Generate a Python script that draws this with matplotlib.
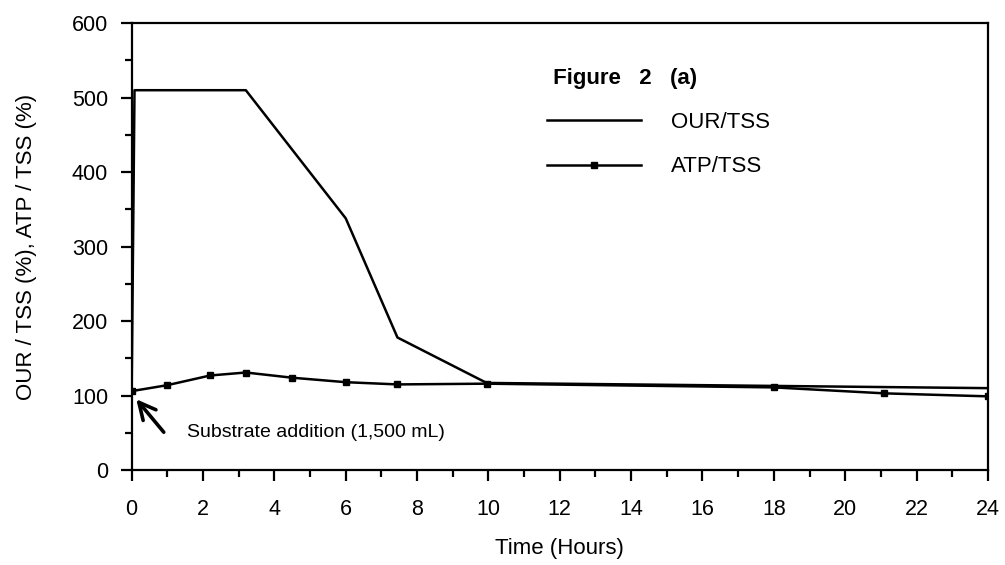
import matplotlib
matplotlib.use('Agg')
import matplotlib.pyplot as plt
from matplotlib.ticker import MultipleLocator

plt.rcParams['font.family'] = ['Liberation Sans', 'DejaVu Sans']

# values
our_time = [0.0, 0.08, 3.2, 6.0, 7.45, 9.95, 24.0]
our_tss = [105, 510, 510, 338, 178, 117, 110]

atp_time = [0.0, 1.0, 2.2, 3.2, 4.5, 6.0, 7.45, 9.95, 18.0, 21.1, 24.0]
atp_tss = [106, 114, 127, 131, 124, 118, 115, 116, 111, 103, 99]

x_ticks = list(range(0, 25, 2))
y_ticks = list(range(0, 601, 100))

fig = plt.figure(figsize=(10.05, 5.65), dpi=100)
ax = fig.add_axes([0.131, 0.168, 0.852, 0.791])

ax.plot(our_time, our_tss, color='black', linewidth=1.8, label='OUR/TSS')
ax.plot(atp_time, atp_tss, color='black', linewidth=1.8, marker='s',
        markersize=4.5, label='ATP/TSS')

ax.set_xlim(0, 24)
ax.set_ylim(0, 600)
ax.set_xticks(x_ticks)
ax.set_yticks(y_ticks)
ax.xaxis.set_minor_locator(MultipleLocator(1))
ax.yaxis.set_minor_locator(MultipleLocator(50))
ax.tick_params(which='major', direction='out', length=8, width=1.6,
               labelsize=15.5)
ax.tick_params(axis='x', which='major', pad=13)
ax.tick_params(axis='y', which='major', pad=9)
ax.tick_params(which='minor', direction='out', length=5, width=1.6)
for side in ax.spines.values():
    side.set_linewidth(1.6)

ax.set_xlabel('Time (Hours)', fontsize=16, labelpad=13)
ax.set_ylabel('OUR / TSS (%), ATP / TSS (%)', fontsize=16, labelpad=25)

# arrow marking the substrate addition
ax.annotate('', xy=(0.08, 98), xytext=(0.95, 48),
            arrowprops=dict(arrowstyle='->', color='black', lw=2.6,
                            mutation_scale=30))
ax.text(1.55, 50, 'Substrate addition (1,500 mL)', fontsize=14,
        va='center', ha='left')

leg = ax.legend(loc='upper left', bbox_to_anchor=(0.462, 0.945), frameon=False,
                fontsize=16, handlelength=4.2, handletextpad=1.35,
                labelspacing=1.05, title=' Figure   2   (a)',
                title_fontproperties={'weight': 'bold', 'size': 16},
                alignment='left')

fig.savefig('out.png', dpi=100)
